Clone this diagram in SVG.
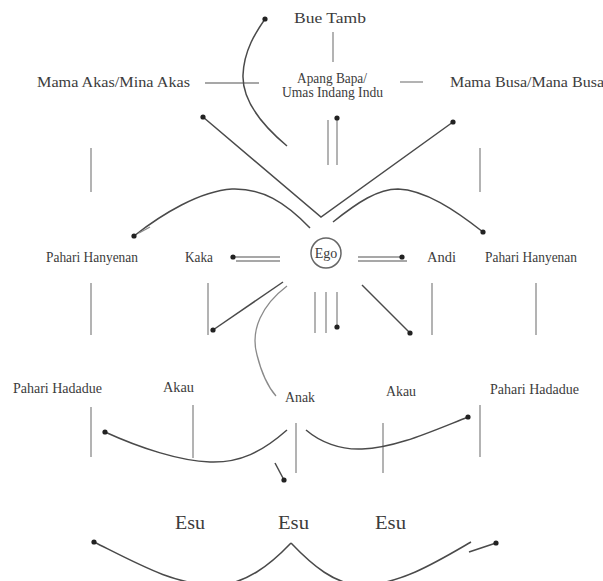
<svg xmlns="http://www.w3.org/2000/svg" width="603" height="581" viewBox="0 0 603 581">
<style>
.t{font-family:"Liberation Serif","Times New Roman",serif;font-size:14px;fill:#3c3c3c}
.big{font-size:19px}
.ln{stroke:#8a8a8a;stroke-width:1.3;fill:none}
.ar{stroke:#4a4a4a;stroke-width:1.5;fill:none}
.dm{marker-end:url(#dot)}
.ds{marker-start:url(#dot)}
</style>
<defs>
<marker id="dot" viewBox="0 0 6 6" refX="3" refY="3" markerWidth="6" markerHeight="6" markerUnits="userSpaceOnUse">
<circle cx="3" cy="3" r="2.6" fill="#222"/>
</marker>
</defs>
<rect width="603" height="581" fill="#fff"/>

<g id="connectors">
  <path class="ln" d="M333,32 L333,62"/>
  <path class="ln" d="M205,83 L259,83"/>
  <path class="ln" d="M400,82 L423,82"/>
  <path class="ar dm" d="M287,146 C262,125 242,100 243,75 C244,50 256,32 265,19"/>
  <path class="ar ds dm" d="M203,117 L321,217 L453,122"/>
  <path class="ln" d="M328,120 L328,165"/>
  <path class="ln dm" d="M337,165 L337,118"/>
  <path class="ln" d="M91,148 L91,192"/>
  <path class="ln" d="M480,148 L480,192"/>
  <path class="ar dm" d="M310,228 C285,202 262,188 232,189 C200,191 162,214 134,236"/>
  <path class="ln" d="M139,233 L150,227"/>
  <path class="ar dm" d="M333,222 C358,202 378,189 398,189 C425,190 455,210 483,232"/>
  <path class="ln dm" d="M280,257 L233,257"/>
  <path class="ln" d="M236,261 L280,261"/>
  <path class="ln dm" d="M358,257 L402,257"/>
  <path class="ln" d="M358,261 L407,261"/>
  <path class="ln" d="M91,283 L91,335"/>
  <path class="ln" d="M208,283 L208,335"/>
  <path class="ln" d="M315,292 L315,333"/>
  <path class="ln" d="M326,292 L326,333"/>
  <path class="ln dm" d="M337,292 L337,327"/>
  <path class="ln" d="M432,283 L432,335"/>
  <path class="ln" d="M536,283 L536,335"/>
  <path class="ar dm" d="M283,282 L213,330"/>
  <path class="ln" d="M287,286 C262,305 250,330 257,355 C262,375 269,388 276,396"/>
  <path class="ar dm" d="M362,285 L410,333"/>
  <path class="ln" d="M91,407 L91,457"/>
  <path class="ln" d="M193,405 L193,458"/>
  <path class="ln" d="M296,423 L296,473"/>
  <path class="ln" d="M383,423 L383,473"/>
  <path class="ln" d="M480,405 L480,457"/>
  <path class="ar dm" d="M287,430 C262,452 240,463 210,462 C180,461 140,448 105,432"/>
  <path class="ar dm" d="M306,430 C320,442 340,450 362,449 C395,448 430,432 468,417"/>
  <path class="ar dm" d="M275,463 L284,480"/>
  <path class="ar ds" d="M94,542 C140,565 175,585 215,585 C245,585 270,565 291,543"/>
  <path class="ar" d="M291,543 C312,565 335,585 362,585 C400,585 440,560 471,542"/>
  <path class="ar dm" d="M469,552 L496,543"/>
</g>

<g id="bue-tamb"><text class="t" x="294" y="23" font-size="14" textLength="72" lengthAdjust="spacingAndGlyphs">Bue Tamb</text></g>
<g id="mama-akas"><text class="t" x="37" y="87" textLength="153" lengthAdjust="spacingAndGlyphs">Mama Akas/Mina Akas</text></g>
<g id="apang-bapa">
  <text class="t" x="297" y="83" font-size="13" textLength="70" lengthAdjust="spacingAndGlyphs">Apang Bapa/</text>
  <text class="t" x="282" y="97" font-size="13" textLength="101" lengthAdjust="spacingAndGlyphs">Umas Indang Indu</text>
</g>
<g id="mama-busa"><text class="t" x="450" y="87" textLength="154" lengthAdjust="spacingAndGlyphs">Mama Busa/Mana Busa</text></g>
<g id="pahari-hanyenan-l"><text class="t" x="46" y="262" textLength="92" lengthAdjust="spacingAndGlyphs">Pahari Hanyenan</text></g>
<g id="kaka"><text class="t" x="185" y="262" textLength="28" lengthAdjust="spacingAndGlyphs">Kaka</text></g>
<g id="ego">
  <circle cx="326" cy="253" r="15" fill="none" stroke="#666" stroke-width="1.5"/>
  <text class="t" x="326" y="258" font-size="13" text-anchor="middle">Ego</text>
</g>
<g id="andi"><text class="t" x="427" y="262" textLength="29" lengthAdjust="spacingAndGlyphs">Andi</text></g>
<g id="pahari-hanyenan-r"><text class="t" x="485" y="262" textLength="92" lengthAdjust="spacingAndGlyphs">Pahari Hanyenan</text></g>
<g id="pahari-hadadue-l"><text class="t" x="13" y="393" textLength="89" lengthAdjust="spacingAndGlyphs">Pahari Hadadue</text></g>
<g id="akau-l"><text class="t" x="163" y="392" textLength="31" lengthAdjust="spacingAndGlyphs">Akau</text></g>
<g id="anak"><text class="t" x="285" y="402" textLength="30" lengthAdjust="spacingAndGlyphs">Anak</text></g>
<g id="akau-r"><text class="t" x="386" y="396" textLength="30" lengthAdjust="spacingAndGlyphs">Akau</text></g>
<g id="pahari-hadadue-r"><text class="t" x="490" y="394" textLength="89" lengthAdjust="spacingAndGlyphs">Pahari Hadadue</text></g>
<g id="esu-1"><text class="t big" x="175" y="529" textLength="30" lengthAdjust="spacingAndGlyphs">Esu</text></g>
<g id="esu-2"><text class="t big" x="278" y="529" textLength="31" lengthAdjust="spacingAndGlyphs">Esu</text></g>
<g id="esu-3"><text class="t big" x="375" y="529" textLength="31" lengthAdjust="spacingAndGlyphs">Esu</text></g>
</svg>
